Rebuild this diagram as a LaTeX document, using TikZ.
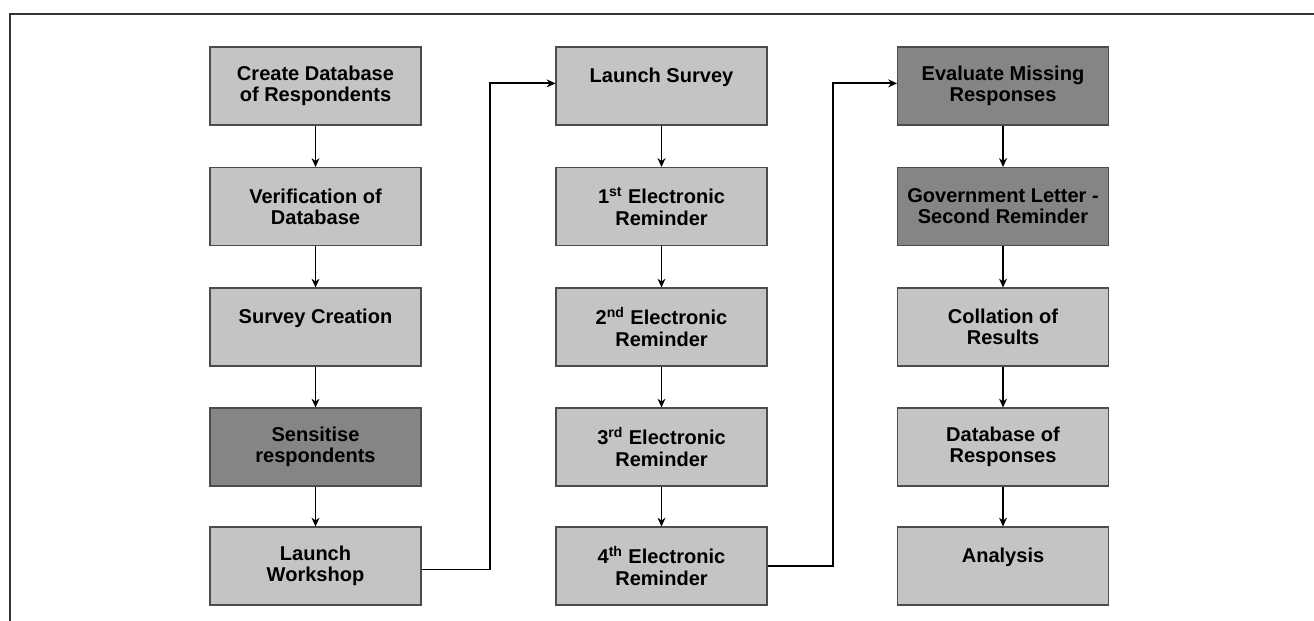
\documentclass[tikz,border=0pt]{standalone}
\usepackage{fontspec}
\setmainfont{Liberation Sans}
\usepackage{tikz}
\usetikzlibrary{arrows.meta}
\definecolor{boxlight}{HTML}{C4C4C4}
\definecolor{boxdark}{HTML}{858585}
\tikzset{
  stagebox/.style={rectangle,draw=black!70,line width=0.6pt,fill=boxlight,
    minimum width=4.22cm,minimum height=1.56cm,align=center,
    font=\fontsize{11.4}{12}\selectfont\bfseries},
  stagedark/.style={stagebox,fill=boxdark},
  flow/.style={line width=1.1pt,-{Stealth[length=5pt,width=4.5pt]}},
}

\begin{document}
\begin{tikzpicture}
      \useasboundingbox (0,0) rectangle (26.28,-12.42);
      \draw[line width=0.8pt,black!80] (26.28,-0.28) -- (0.2,-0.28) -- (0.2,-12.42);

      % first column
      \node[stagebox] (A1) at (6.31,-1.72) {Create Database\\of Respondents};
      \node[stagebox] (A2) at (6.31,-4.13) {Verification of\\Database};
      \node[stagebox] (A3) at (6.31,-6.54) {Survey Creation\\\mbox{}};
      \node[stagedark] (A4) at (6.31,-8.94) {Sensitise\\respondents};
      \node[stagebox] (A5) at (6.31,-11.32) {Launch\\Workshop};

      % second column
      \node[stagebox] (B1) at (13.23,-1.72) {Launch Survey\\\mbox{}};
      \node[stagebox] (B2) at (13.23,-4.13) {1\textsuperscript{st} Electronic\\Reminder};
      \node[stagebox] (B3) at (13.23,-6.54) {2\textsuperscript{nd} Electronic\\Reminder};
      \node[stagebox] (B4) at (13.23,-8.94) {3\textsuperscript{rd} Electronic\\Reminder};
      \node[stagebox] (B5) at (13.23,-11.32) {4\textsuperscript{th} Electronic\\Reminder};

      % third column
      \node[stagedark] (C1) at (20.06,-1.72) {Evaluate Missing\\Responses};
      \node[stagedark] (C2) at (20.06,-4.13) {Government Letter -\\Second Reminder};
      \node[stagebox] (C3) at (20.06,-6.54) {Collation of\\Results};
      \node[stagebox] (C4) at (20.06,-8.94) {Database of\\Responses};
      \node[stagebox] (C5) at (20.06,-11.32) {Analysis\\\mbox{}};

      \foreach \col in {A,B,C}{
        \draw[flow] (\col1) -- (\col2);
        \draw[flow] (\col2) -- (\col3);
        \draw[flow] (\col3) -- (\col4);
        \draw[flow] (\col4) -- (\col5);
      }

      % links between columns
      \coordinate (M1) at (9.8,0);
      \coordinate (M2) at (16.66,0);
      \draw[flow] ([yshift=-2pt]A5.east) -- ([yshift=-2pt]A5.east -| M1) -- ([yshift=1.5pt]B1.west -| M1) -- ([yshift=1.5pt]B1.west);
      \draw[flow] (B5.east) -- (B5.east -| M2) -- ([yshift=1.5pt]C1.west -| M2) -- ([yshift=1.5pt]C1.west);
    \end{tikzpicture}
\end{document}
